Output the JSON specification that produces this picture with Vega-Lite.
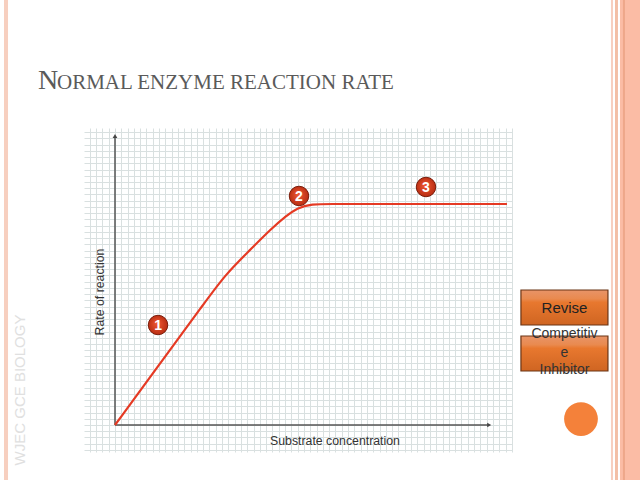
{
  "$schema": "https://vega.github.io/schema/vega-lite/v6.json",
  "width": 428,
  "height": 324,
  "autosize": {"type": "none"},
  "padding": {"left": 84, "top": 128, "right": 128, "bottom": 28},
  "background": "white",
  "config": {"view": {"stroke": null}},
  "datasets": {
    "curve": [
      {"s": 0, "r": 0},
      {"s": 7.14, "r": 9.86},
      {"s": 14.29, "r": 19.7},
      {"s": 17.46, "r": 24.08},
      {"s": 21.43, "r": 28.09},
      {"s": 24.29, "r": 30.98},
      {"s": 29.05, "r": 35.47},
      {"s": 33.33, "r": 35.47},
      {"s": 45.24, "r": 35.47},
      {"s": 62.22, "r": 35.47}
    ],
    "markers": [
      {"s": 6.83, "r": 16.05, "label": "1"},
      {"s": 29.21, "r": 36.76, "label": "2"},
      {"s": 49.37, "r": 38.2, "label": "3"}
    ],
    "axes": [
      {"s": 0, "r": 0, "s2": 0, "r2": 46.3},
      {"s": 0, "r": 0, "s2": 59.3, "r2": 0}
    ],
    "arrows": [
      {"s": 0, "r": 46.4, "dir": "up"},
      {"s": 59.4, "r": 0, "dir": "right"}
    ],
    "titleCap": [{"s": -12.22, "r": 53.93, "t": "N"}],
    "titleRest": [{"s": -9.21, "r": 53.93, "t": "ORMAL ENZYME REACTION RATE"}],
    "ytitle": [{"s": -2.38, "r": 21.35, "t": "Rate of reaction"}],
    "xtitle": [{"s": 34.92, "r": -2.57, "t": "Substrate concentration"}],
    "buttons": [
      {"s": 64.44, "s2": 78.25, "r": 21.67, "r2": 16.05},
      {"s": 64.44, "s2": 78.25, "r": 14.29, "r2": 8.67}
    ],
    "revise": [{"s": 71.35, "r": 18.86, "t": "Revise"}],
    "comp": [
      {"s": 71.35, "r": 14.61, "t": "Competitiv"},
      {"s": 71.35, "r": 11.56, "t": "e"},
      {"s": 71.35, "r": 8.83, "t": "Inhibitor"}
    ],
    "disc": [{"s": 73.97, "r": 0.96}],
    "brand": [{"s": -15.08, "r": 5.62, "t": "WJEC GCE BIOLOGY"}],
    "stripesLight": [
      {"s": 78.73, "s2": 79.05, "r": 68.3, "r2": -8.9},
      {"s": -17.62, "s2": -16.98, "r": 68.3, "r2": -8.9}
    ],
    "stripesMid": [
      {"s": 79.37, "s2": 79.84, "r": 68.3, "r2": -8.9}
    ],
    "stripesWide": [
      {"s": 80.16, "s2": 83.5, "r": 68.3, "r2": -8.9}
    ],
    "stripesDark": [
      {"s": 80.63, "s2": 80.95, "r": 68.3, "r2": -8.9}
    ]
  },
  "encoding": {
    "x": {
      "field": "s",
      "type": "quantitative",
      "scale": {"domain": [-4.92, 63.02], "nice": false, "zero": false},
      "axis": {"grid": true, "tickCount": 68, "labels": false, "ticks": false, "domain": false, "title": null, "gridColor": "#d9e0e0", "gridWidth": 1}
    },
    "y": {
      "field": "r",
      "type": "quantitative",
      "scale": {"domain": [-4.33, 47.67], "nice": false, "zero": false},
      "axis": {"grid": true, "tickCount": 52, "labels": false, "ticks": false, "domain": false, "title": null, "gridColor": "#d9e0e0", "gridWidth": 1}
    }
  },
  "layer": [
    {
      "data": {"name": "stripesLight"},
      "mark": {"type": "rect", "color": "#f7cfbf"},
      "encoding": {"x2": {"field": "s2"}, "y2": {"field": "r2"}}
    },
    {
      "data": {"name": "stripesMid"},
      "mark": {"type": "rect", "color": "#f3bfa6"},
      "encoding": {"x2": {"field": "s2"}, "y2": {"field": "r2"}}
    },
    {
      "data": {"name": "stripesWide"},
      "mark": {"type": "rect", "color": "#fbbca5"},
      "encoding": {"x2": {"field": "s2"}, "y2": {"field": "r2"}}
    },
    {
      "data": {"name": "stripesDark"},
      "mark": {"type": "rect", "color": "#eea78a"},
      "encoding": {"x2": {"field": "s2"}, "y2": {"field": "r2"}}
    },
    {
      "data": {"name": "titleCap"},
      "mark": {"type": "text", "color": "#5a5a5a", "font": "Liberation Serif", "fontSize": 28, "baseline": "alphabetic", "align": "left"},
      "encoding": {"text": {"field": "t"}}
    },
    {
      "data": {"name": "titleRest"},
      "mark": {"type": "text", "color": "#5a5a5a", "font": "Liberation Serif", "fontSize": 21, "baseline": "alphabetic", "align": "left"},
      "encoding": {"text": {"field": "t"}}
    },
    {
      "data": {"name": "axes"},
      "mark": {"type": "rule", "color": "#555555", "strokeWidth": 1.5},
      "encoding": {"x2": {"field": "s2"}, "y2": {"field": "r2"}}
    },
    {
      "data": {"name": "arrows"},
      "mark": {"type": "point", "filled": true, "color": "#444444", "size": 22, "opacity": 1},
      "encoding": {
        "shape": {"field": "dir", "type": "nominal", "scale": {"domain": ["up", "right"], "range": ["triangle-up", "triangle-right"]}, "legend": null}
      }
    },
    {
      "data": {"name": "curve"},
      "mark": {"type": "line", "color": "#e53a24", "strokeWidth": 2.2, "interpolate": "basis"}
    },
    {
      "data": {"name": "markers"},
      "mark": {
        "type": "point",
        "filled": true,
        "size": 380,
        "opacity": 1,
        "fill": {"gradient": "radial", "x1": 0.45, "y1": 0.4, "r1": 0, "x2": 0.5, "y2": 0.5, "r2": 0.55, "stops": [{"offset": 0, "color": "#f05a34"}, {"offset": 1, "color": "#b52a10"}]},
        "stroke": "#7a1e0c",
        "strokeWidth": 1
      }
    },
    {
      "data": {"name": "markers"},
      "mark": {"type": "text", "color": "white", "font": "Liberation Sans", "fontSize": 14, "fontWeight": "bold", "baseline": "middle", "align": "center", "dy": 1},
      "encoding": {"text": {"field": "label"}}
    },
    {
      "data": {"name": "ytitle"},
      "mark": {"type": "text", "angle": 270, "color": "#333333", "font": "Liberation Sans", "fontSize": 12.3, "baseline": "middle", "align": "center"},
      "encoding": {"text": {"field": "t"}}
    },
    {
      "data": {"name": "xtitle"},
      "mark": {"type": "text", "color": "#333333", "font": "Liberation Sans", "fontSize": 12.3, "baseline": "middle", "align": "center"},
      "encoding": {"text": {"field": "t"}}
    },
    {
      "data": {"name": "buttons"},
      "mark": {
        "type": "rect",
        "fill": {"gradient": "linear", "x1": 0, "y1": 0, "x2": 0, "y2": 1, "stops": [{"offset": 0, "color": "#e89468"}, {"offset": 0.25, "color": "#e98a4f"}, {"offset": 0.35, "color": "#e8782f"}, {"offset": 1, "color": "#cf6522"}]},
        "stroke": "#6b3414",
        "strokeWidth": 1.2
      },
      "encoding": {"x2": {"field": "s2"}, "y2": {"field": "r2"}}
    },
    {
      "data": {"name": "revise"},
      "mark": {"type": "text", "color": "#222222", "font": "Liberation Sans", "fontSize": 15, "baseline": "middle", "align": "center"},
      "encoding": {"text": {"field": "t"}}
    },
    {
      "data": {"name": "comp"},
      "mark": {"type": "text", "color": "#333333", "font": "Liberation Sans", "fontSize": 14, "baseline": "middle", "align": "center"},
      "encoding": {"text": {"field": "t"}}
    },
    {
      "data": {"name": "disc"},
      "mark": {"type": "point", "filled": true, "color": "#f4813a", "size": 1140, "opacity": 1}
    },
    {
      "data": {"name": "brand"},
      "mark": {"type": "text", "angle": 270, "color": "#e0e0e0", "font": "Liberation Sans", "fontSize": 15, "baseline": "middle", "align": "center"},
      "encoding": {"text": {"field": "t"}}
    }
  ]
}
